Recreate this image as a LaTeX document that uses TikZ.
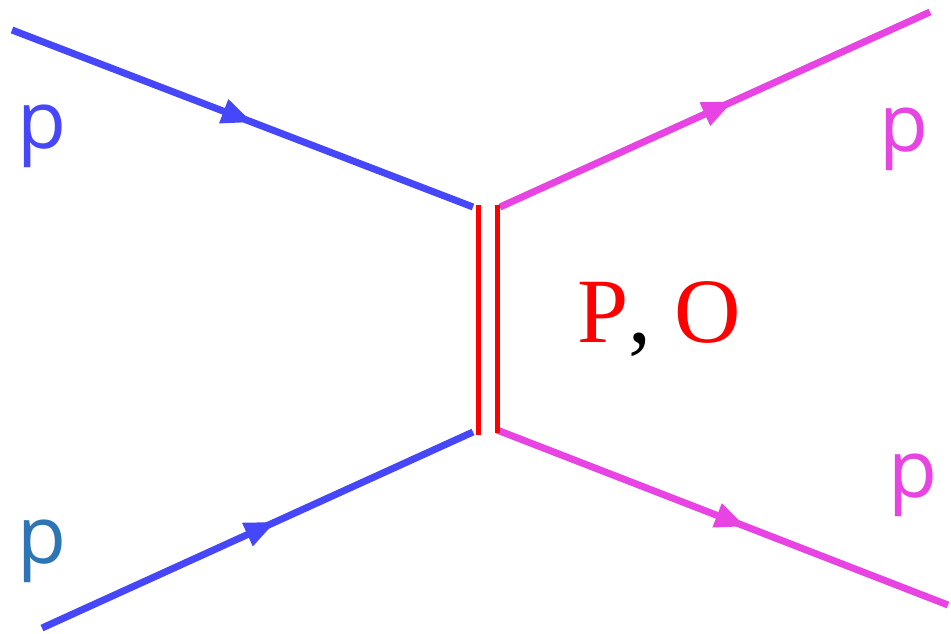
\documentclass[tikz,border=0pt]{standalone}
\usepackage{fontspec}
\setmainfont{Liberation Serif}
\newfontfamily\labfont{Open Sans}
\usetikzlibrary{arrows.meta,decorations.markings}
\definecolor{pblue}{HTML}{4646FA}
\definecolor{pmag}{HTML}{E844E4}
\definecolor{psteel}{HTML}{2E75B6}
\definecolor{pred}{HTML}{FF0000}
\tikzset{
  fermion/.style={line width=7pt, postaction={decorate},
    decoration={markings, mark=at position #1 with {\arrow[line width=0pt]{Triangle[length=30pt,width=26pt]}}}},
  exch/.style={pred, line width=5pt},
  plab/.style={font=\labfont\fontsize{80}{90}\selectfont, inner sep=0pt}
}
\begin{document}
\begin{tikzpicture}[x=1pt,y=-1pt]
\useasboundingbox (0,0) rectangle (951,633);
\coordinate (a1) at (12,30);
\coordinate (v1) at (473,207);
\coordinate (a2) at (42,628);
\coordinate (v2) at (473,432);
\coordinate (b1) at (930,12);
\coordinate (w1) at (500,207);
\coordinate (b2) at (948,605);
\coordinate (w2) at (497,430);
\coordinate (r1t) at (478,205);
\coordinate (r1b) at (478,435);
\coordinate (r2t) at (497,205);
\coordinate (r2b) at (497,433);
\draw[fermion=0.52, pblue] (a1) -- (v1);
\draw[fermion=0.54, pblue] (a2) -- (v2);
\draw[fermion=0.54, pmag] (w1) -- (b1);
\draw[fermion=0.55, pmag] (w2) -- (b2);
\draw[exch] (r1t) -- (r1b);
\draw[exch] (r2t) -- (r2b);
\node[plab, text=pblue, anchor=base] (l1) at (42,148) {p};
\node[plab, text=psteel, anchor=base] (l2) at (42,563) {p};
\node[plab, text=pmag, anchor=base] (l3) at (904,151) {p};
\node[plab, text=pmag, anchor=base] (l4) at (913,497) {p};
\node[font=\fontsize{92}{100}\selectfont, inner sep=0pt, anchor=base] (po) at (659,342) {\textcolor{pred}{P}, \textcolor{pred}{O}};
\end{tikzpicture}
\end{document}
